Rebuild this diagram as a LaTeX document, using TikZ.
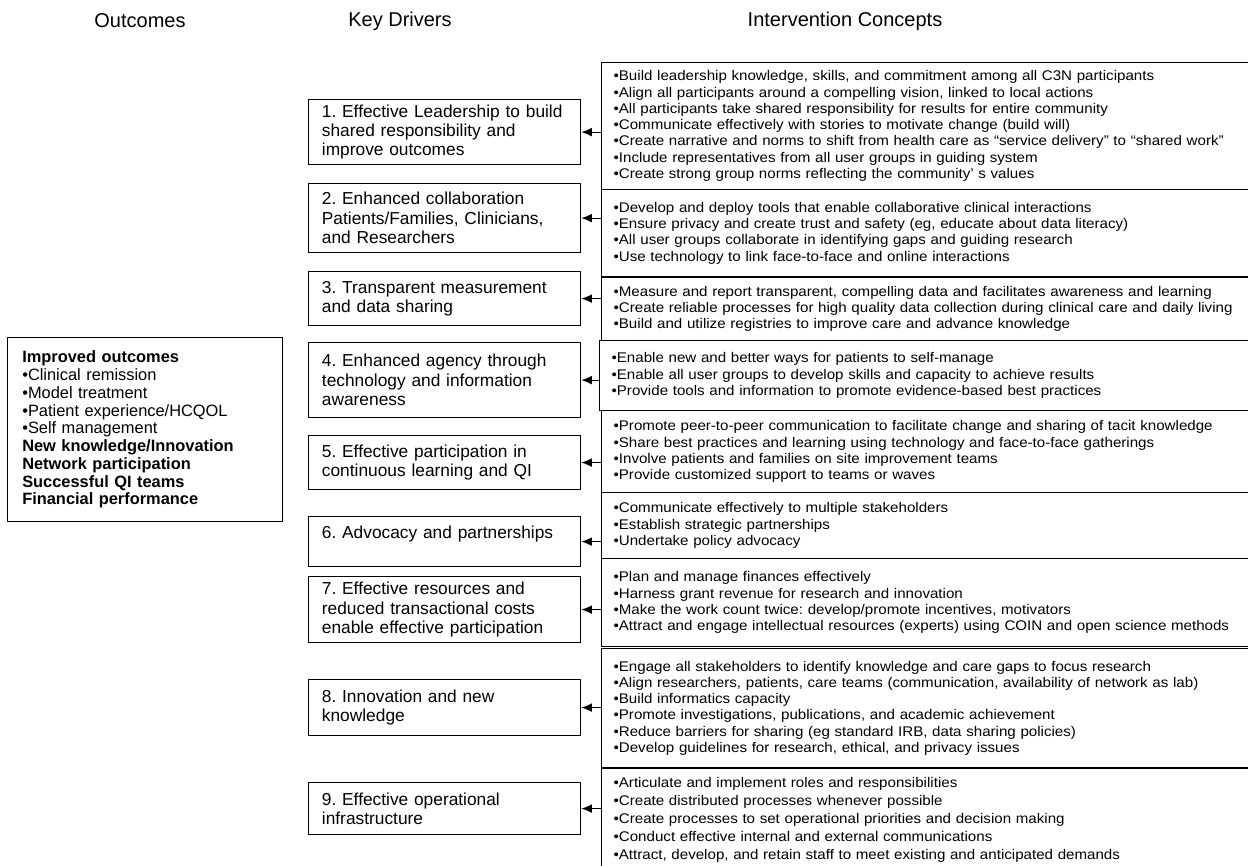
\documentclass[tikz,border=0pt]{standalone}
\usepackage{fontspec}
\setmainfont{Liberation Sans}
\newfontfamily\narrowfont[FakeStretch=1.08]{Liberation Sans}
\usetikzlibrary{arrows.meta}
\frenchspacing

\tikzset{
  heading/.style={font=\fontsize{15}{17}\selectfont},
  driver/.style={draw, line width=0.9pt, anchor=north west, inner xsep=10pt, inner ysep=0pt,
    text width=184pt, align=left, font=\fontsize{13}{14.5}\selectfont},
  concept/.style={draw, line width=0.9pt, anchor=north west, inner xsep=9pt, inner ysep=0pt,
    text width=520pt, align=left, font=\narrowfont\fontsize{10.5}{12.2}\selectfont},
  outcome/.style={draw, line width=0.9pt, anchor=north west, inner xsep=11pt, inner ysep=0pt,
    text width=184pt, minimum height=138pt, align=left, font=\fontsize{12.3}{13.3}\selectfont},
  link/.style={line width=0.9pt, -{Latex[length=8pt,width=6.5pt]}}
}

\begin{document}
\begin{tikzpicture}[x=0.75pt, y=-0.75pt]
  \useasboundingbox (0,0) rectangle (1248,865);
  \clip (0,0) rectangle (1248,865);

  % column headings
  \node[heading] (hout) at (140,21) {Outcomes};
  \node[heading] (hkey) at (400,21) {Key Drivers};
  \node[heading] (hint) at (845,21) {Intervention Concepts};

  % outcomes
  \node[outcome] (out) at (7,337) {\textbf{Improved outcomes}\\
    •Clinical remission\\
    •Model treatment\\
    •Patient experience/HCQOL\\
    •Self management\\
    \textbf{New knowledge/Innovation}\\
    \textbf{Network participation}\\
    \textbf{Successful QI teams}\\
    \textbf{Financial performance}};

  % key drivers
  \node[driver, minimum height=48.75pt] (d1) at (308,99)
    {1. Effective Leadership to build\\shared responsibility and\\improve outcomes};
  \node[driver, minimum height=51.75pt] (d2) at (308,183)
    {2. Enhanced collaboration\\Patients/Families, Clinicians,\\and Researchers};
  \node[driver, minimum height=40.5pt] (d3) at (308,271)
    {3. Transparent measurement\\and data sharing};
  \node[driver, minimum height=56.25pt] (d4) at (308,342)
    {4. Enhanced agency through\\technology and information\\awareness};
  \node[driver, minimum height=40.5pt] (d5) at (308,435)
    {5. Effective participation in\\continuous learning and QI};
  \node[driver, minimum height=37.5pt] (d6) at (308,516)
    {6. Advocacy and partnerships\\\mbox{}};
  \node[driver, minimum height=49.5pt] (d7) at (308,576)
    {7. Effective resources and\\reduced transactional costs\\enable effective participation};
  \node[driver, minimum height=42pt] (d8) at (308,679)
    {8. Innovation and new\\knowledge};
  \node[driver, minimum height=39pt] (d9) at (308,782)
    {9. Effective operational\\infrastructure};

  % intervention concepts
  \node[concept, minimum height=95.25pt] (i1) at (601,62)
    {•Build leadership knowledge, skills, and commitment among all C3N participants\\
     •Align all participants around a compelling vision, linked to local actions\\
     •All participants take shared responsibility for results for entire community\\
     •Communicate effectively with stories to motivate change (build will)\\
     •Create narrative and norms to shift from health care as “service delivery” to “shared work”\\
     •Include representatives from all user groups in guiding system\\
     •Create strong group norms reflecting the community’ s values};
  \node[concept, minimum height=65.25pt] (i2) at (601,189)
    {•Develop and deploy tools that enable collaborative clinical interactions\\
     •Ensure privacy and create trust and safety (eg, educate about data literacy)\\
     •All user groups collaborate in identifying gaps and guiding research\\
     •Use technology to link face-to-face and online interactions};
  \node[concept, minimum height=47.25pt] (i3) at (601,277)
    {•Measure and report transparent, compelling data and facilitates awareness and learning\\
     •Create reliable processes for high quality data collection during clinical care and daily living\\
     •Build and utilize registries to improve care and advance knowledge};
  \node[concept, minimum height=52.5pt] (i4) at (599,340)
    {•Enable new and better ways for patients to self-manage\\
     •Enable all user groups to develop skills and capacity to achieve results\\
     •Provide tools and information to promote evidence-based best practices};
  \node[concept, minimum height=61.5pt] (i5) at (601,410)
    {•Promote peer-to-peer communication to facilitate change and sharing of tacit knowledge\\
     •Share best practices and learning using technology and face-to-face gatherings\\
     •Involve patients and families on site improvement teams\\
     •Provide customized support to teams or waves};
  \node[concept, minimum height=49.5pt] (i6) at (601,492)
    {•Communicate effectively to multiple stakeholders\\
     •Establish strategic partnerships\\
     •Undertake policy advocacy};
  \node[concept, minimum height=66pt] (i7) at (601,558)
    {•Plan and manage finances effectively\\
     •Harness grant revenue for research and innovation\\
     •Make the work count twice: develop/promote incentives, motivators\\
     •Attract and engage intellectual resources (experts) using COIN and open science methods};
  \node[concept, minimum height=89.25pt] (i8) at (601,648)
    {•Engage all stakeholders to identify knowledge and care gaps to focus research\\
     •Align researchers, patients, care teams (communication, availability of network as lab)\\
     •Build informatics capacity\\
     •Promote investigations, publications, and academic achievement\\
     •Reduce barriers for sharing (eg standard IRB, data sharing policies)\\
     •Develop guidelines for research, ethical, and privacy issues};
  \node[concept, minimum height=76.5pt, font=\narrowfont\fontsize{10.5}{13.5}\selectfont] (i9) at (601,768)
    {•Articulate and implement roles and responsibilities\\
     •Create distributed processes whenever possible\\
     •Create processes to set operational priorities and decision making\\
     •Conduct effective internal and external communications\\
     •Attract, develop, and retain staff to meet existing and anticipated demands};

  % arrows from concepts to drivers
  \draw[link] (i1.west |- d1.east) -- (d1.east);
  \draw[link] (i2.west |- d2.east) -- (d2.east);
  \draw[link] (i3.west |- d3.east) -- (d3.east);
  \draw[link] (i4.west |- d4.east) -- (d4.east);
  \draw[link] (i5.west |- d5.east) -- (d5.east);
  \draw[link] (i6.west |- d6.east) -- (d6.east);
  \draw[link] (i7.west |- d7.east) -- (d7.east);
  \draw[link] (i8.west |- d8.east) -- (d8.east);
  \draw[link] (i9.west |- d9.east) -- (d9.east);
\end{tikzpicture}
\end{document}
